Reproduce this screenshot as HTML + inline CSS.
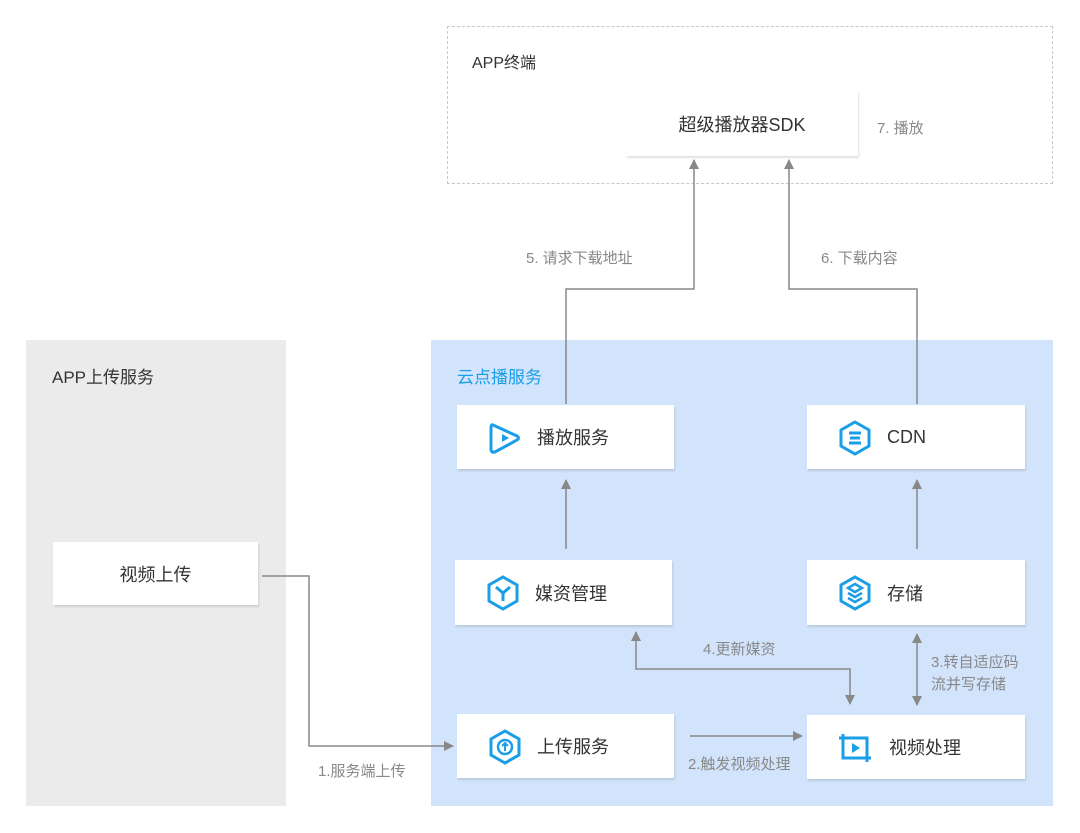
<!DOCTYPE html>
<html><head><meta charset="utf-8"><style>
body{margin:0;width:1080px;height:833px;background:#fff;position:relative;overflow:hidden;font-family:"Liberation Sans","Noto Sans CJK SC",sans-serif;}
.a{position:absolute}
.box{position:absolute;background:#fff;box-shadow:1px 2px 2px rgba(0,0,0,0.12);font-size:18px;color:#333;display:flex;align-items:center}
.lbl{position:absolute;font-size:15px;color:#888;white-space:nowrap}
.ic{position:absolute;left:30px;top:15px}
.t{position:absolute;left:80px}
</style></head><body>
<div class="a" style="left:447px;top:26px;width:604px;height:156px;border:1.5px dashed #c8c8c8"></div>
<div class="a" style="left:472px;top:49px;font-size:16px;color:#333">APP终端</div>
<div class="box" style="left:626px;top:91px;width:232px;height:65px;justify-content:center">超级播放器SDK</div>
<div class="lbl" style="left:877px;top:117px">7. 播放</div>

<div class="a" style="left:26px;top:340px;width:260px;height:466px;background:#ebebeb"></div>
<div class="a" style="left:52px;top:363px;font-size:17px;color:#333">APP上传服务</div>
<div class="box" style="left:53px;top:542px;width:205px;height:63px;justify-content:center">视频上传</div>

<div class="a" style="left:431px;top:340px;width:622px;height:466px;background:#d2e4fb"></div>
<div class="a" style="left:457px;top:363px;font-size:17px;color:#1a9ee8">云点播服务</div>

<div class="lbl" style="left:526px;top:247px">5. 请求下载地址</div>
<div class="lbl" style="left:821px;top:247px">6. 下载内容</div>
<div class="lbl" style="left:703px;top:638px">4.更新媒资</div>
<div class="lbl" style="left:931px;top:652px;line-height:22px">3.转自适应码<br>流并写存储</div>
<div class="lbl" style="left:688px;top:753px">2.触发视频处理</div>
<div class="lbl" style="left:318px;top:760px">1.服务端上传</div>

<svg class="a" style="left:0;top:0" width="1080" height="833">
<defs><marker id="m" markerWidth="10" markerHeight="10" refX="9" refY="5" orient="auto" markerUnits="userSpaceOnUse"><path d="M0,0L10,5L0,10z" fill="#888"/></marker>
<marker id="ms" markerWidth="10" markerHeight="10" refX="1" refY="5" orient="auto" markerUnits="userSpaceOnUse"><path d="M10,0L0,5L10,10z" fill="#888"/></marker></defs>
<g stroke="#888" stroke-width="1.5" fill="none">
<polyline points="566,404 566,289 694,289 694,160" marker-end="url(#m)"/>
<polyline points="917,404 917,289 789,289 789,160" marker-end="url(#m)"/>
<line x1="566" y1="549" x2="566" y2="480" marker-end="url(#m)"/>
<line x1="917" y1="549" x2="917" y2="480" marker-end="url(#m)"/>
<polyline points="850,704 850,669 636,669 636,632" marker-end="url(#m)" marker-start="url(#ms)"/>
<line x1="917" y1="634" x2="917" y2="705" marker-start="url(#ms)" marker-end="url(#m)"/>
<line x1="690" y1="736" x2="802" y2="736" marker-end="url(#m)"/>
<polyline points="262,576 309,576 309,746 453,746" marker-end="url(#m)"/>
</g></svg>

<div class="box" style="left:457px;top:405px;width:217px;height:64px"><svg class="ic" width="36" height="36" viewBox="0 0 36 36"><path d="M6 5 L30 16 Q33 18 30 20 L8 32 Q4 33 4 29 L4 8 Q4 4 6 5Z" fill="none" stroke="#1a9ee8" stroke-width="3"/><path d="M15 14 L22 18 L15 22Z" fill="#1a9ee8"/></svg><span class="t">播放服务</span></div>
<div class="box" style="left:807px;top:405px;width:218px;height:64px"><svg class="ic" width="36" height="36" viewBox="0 0 36 36"><path d="M18 2 L32 10 L32 26 L18 34 L4 26 L4 10Z" fill="none" stroke="#1a9ee8" stroke-width="3"/><path d="M12 13 H24 M12 23 H24 M13 18 H23" stroke="#1a9ee8" stroke-width="3"/></svg><span class="t">CDN</span></div>
<div class="box" style="left:455px;top:560px;width:217px;height:65px"><svg class="ic" width="36" height="36" viewBox="0 0 36 36"><path d="M18 2 L32 10 L32 26 L18 34 L4 26 L4 10Z" fill="none" stroke="#1a9ee8" stroke-width="3"/><path d="M11 12 L18 18 L25 12 M18 18 V26" stroke="#1a9ee8" stroke-width="3" fill="none"/></svg><span class="t">媒资管理</span></div>
<div class="box" style="left:807px;top:560px;width:218px;height:65px"><svg class="ic" width="36" height="36" viewBox="0 0 36 36"><path d="M18 2 L32 10 L32 26 L18 34 L4 26 L4 10Z" fill="none" stroke="#1a9ee8" stroke-width="3"/><path d="M11 13 L18 9 L25 13 L18 17Z M11 18 L18 22 L25 18 M11 23 L18 27 L25 23" stroke="#1a9ee8" stroke-width="2.5" fill="none"/></svg><span class="t">存储</span></div>
<div class="box" style="left:457px;top:714px;width:217px;height:64px"><svg class="ic" width="36" height="36" viewBox="0 0 36 36"><path d="M18 2 L32 10 L32 26 L18 34 L4 26 L4 10Z" fill="none" stroke="#1a9ee8" stroke-width="3"/><circle cx="18" cy="18" r="7" fill="none" stroke="#1a9ee8" stroke-width="2.5"/><path d="M18 22 V14 M15 17 L18 14 L21 17" stroke="#1a9ee8" stroke-width="2" fill="none"/></svg><span class="t">上传服务</span></div>
<div class="box" style="left:807px;top:715px;width:218px;height:64px"><svg class="ic" width="38" height="36" viewBox="0 0 38 36"><path d="M6 4 V28 H34 M2 8 H30 V32" fill="none" stroke="#1a9ee8" stroke-width="3"/><path d="M15 13 L23 18 L15 23Z" fill="#1a9ee8"/></svg><span class="t" style="left:82px">视频处理</span></div>
</body></html>
